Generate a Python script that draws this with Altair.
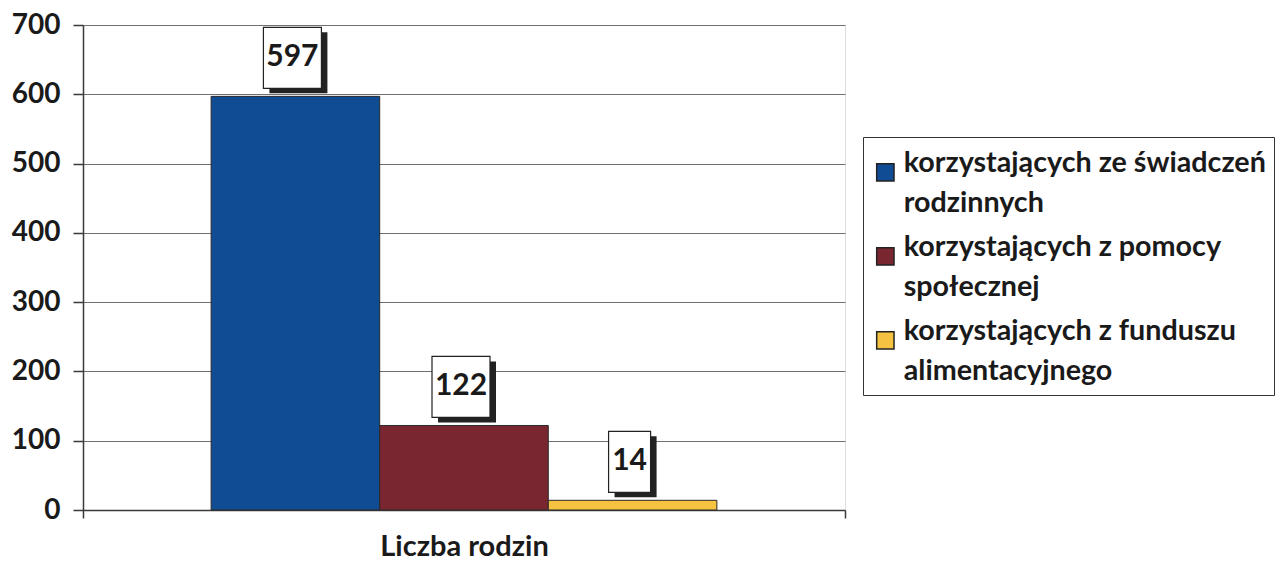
import altair as alt
import pandas as pd

group_label = "Liczba rodzin"
series = [
    "korzystających ze świadczeń rodzinnych",
    "korzystających z pomocy społecznej",
    "korzystających z funduszu alimentacyjnego",
]
values = [597, 122, 14]
colors = ["#0F4C93", "#7A2630", "#F5C242"]
y_ticks = [0, 100, 200, 300, 400, 500, 600, 700]

df = pd.DataFrame({"group": [group_label] * len(series), "series": series, "value": values})

FONT = "Lato"
TXT = "#1a1a1a"
LINE = "#3a3a3a"

y_axis = alt.Axis(
    values=y_ticks, title=None, labelFont=FONT, labelFontSize=28, labelFontWeight="bold",
    labelColor=TXT, labelPadding=13, tickSize=10, tickColor=LINE, domainColor=LINE,
    domainWidth=1.5, tickWidth=1.5, gridColor="#707070", gridWidth=1,
)
y_scale = alt.Scale(domain=[0, 700], nice=False, zero=True)
y_enc = alt.Y("value:Q", scale=y_scale, axis=y_axis)

bars = alt.Chart(df).mark_bar(stroke="#2a2a2a", strokeWidth=1).encode(
    x=alt.X(
        "group:N",
        scale=alt.Scale(paddingInner=0, paddingOuter=0),
        axis=alt.Axis(
            title=None, labelFont=FONT, labelFontSize=29, labelFontWeight="bold", labelColor=TXT,
            labelAngle=0, tickBand="extent", tickSize=8, tickColor=LINE, tickWidth=1.5,
            domainColor=LINE, domainWidth=1.5, labelPadding=14, grid=False,
        ),
    ),
    xOffset=alt.XOffset("series:N", sort=series, scale=alt.Scale(paddingOuter=0.76, paddingInner=0)),
    y=y_enc,
    color=alt.Color(
        "series:N", sort=series, scale=alt.Scale(domain=series, range=colors),
        legend=alt.Legend(
            orient="none", legendX=780, legendY=112, title=" ", titleFontSize=4, titlePadding=9,
            strokeColor="#333",
            padding=8, symbolType="square", symbolSize=300, symbolStrokeColor="#222",
            symbolStrokeWidth=1.5, labelFont=FONT, labelFontSize=28.7, labelFontWeight="bold",
            labelColor=TXT, labelLimit=1000, labelOffset=4, labelBaseline="alphabetic",
            rowPadding=14,
            labelExpr="split(replace(datum.label, regexp(' ([^ ]+)$'), '|$1'), '|')",
        ),
    ),
)

x_lab = alt.X("series:N", sort=series,
              scale=alt.Scale(type="band", domain=series, paddingOuter=0.76, paddingInner=0), axis=None)
y_lab = alt.Y("value:Q", scale=y_scale, axis=y_axis)

base = alt.Chart(df).transform_calculate(boxw="10 + 16 * length(toString(datum.value))")

shadow = base.mark_bar(color="#222222", xOffset=3, yOffset=-3, y2Offset=-64).encode(
    x=x_lab, y=y_lab, y2=alt.Y2("value:Q"), size=alt.Size("boxw:Q", scale=None, legend=None)
)
box = base.mark_bar(color="white", stroke="#222222", strokeWidth=1.2, xOffset=-3, yOffset=-8, y2Offset=-69).encode(
    x=x_lab, y=y_lab, y2=alt.Y2("value:Q"), size=alt.Size("boxw:Q", scale=None, legend=None)
)
text = alt.Chart(df).mark_text(
    font=FONT, fontSize=30, fontWeight="bold", color=TXT, dx=-3, dy=-39, baseline="middle"
).encode(x=x_lab, y=y_lab, text=alt.Text("value:Q"))

chart = alt.layer(bars, shadow, box, text).resolve_scale(x="independent").properties(
    width=762, height=485,
    autosize=alt.AutoSizeParams(type="none"),
    padding={"left": 75, "top": 17, "right": 430, "bottom": 53},
).configure_view(stroke=None).configure(
    style={"guide-label": {"lineHeight": 40}}
)

chart.save("out.html", embed_options={"renderer": "svg", "actions": False})
